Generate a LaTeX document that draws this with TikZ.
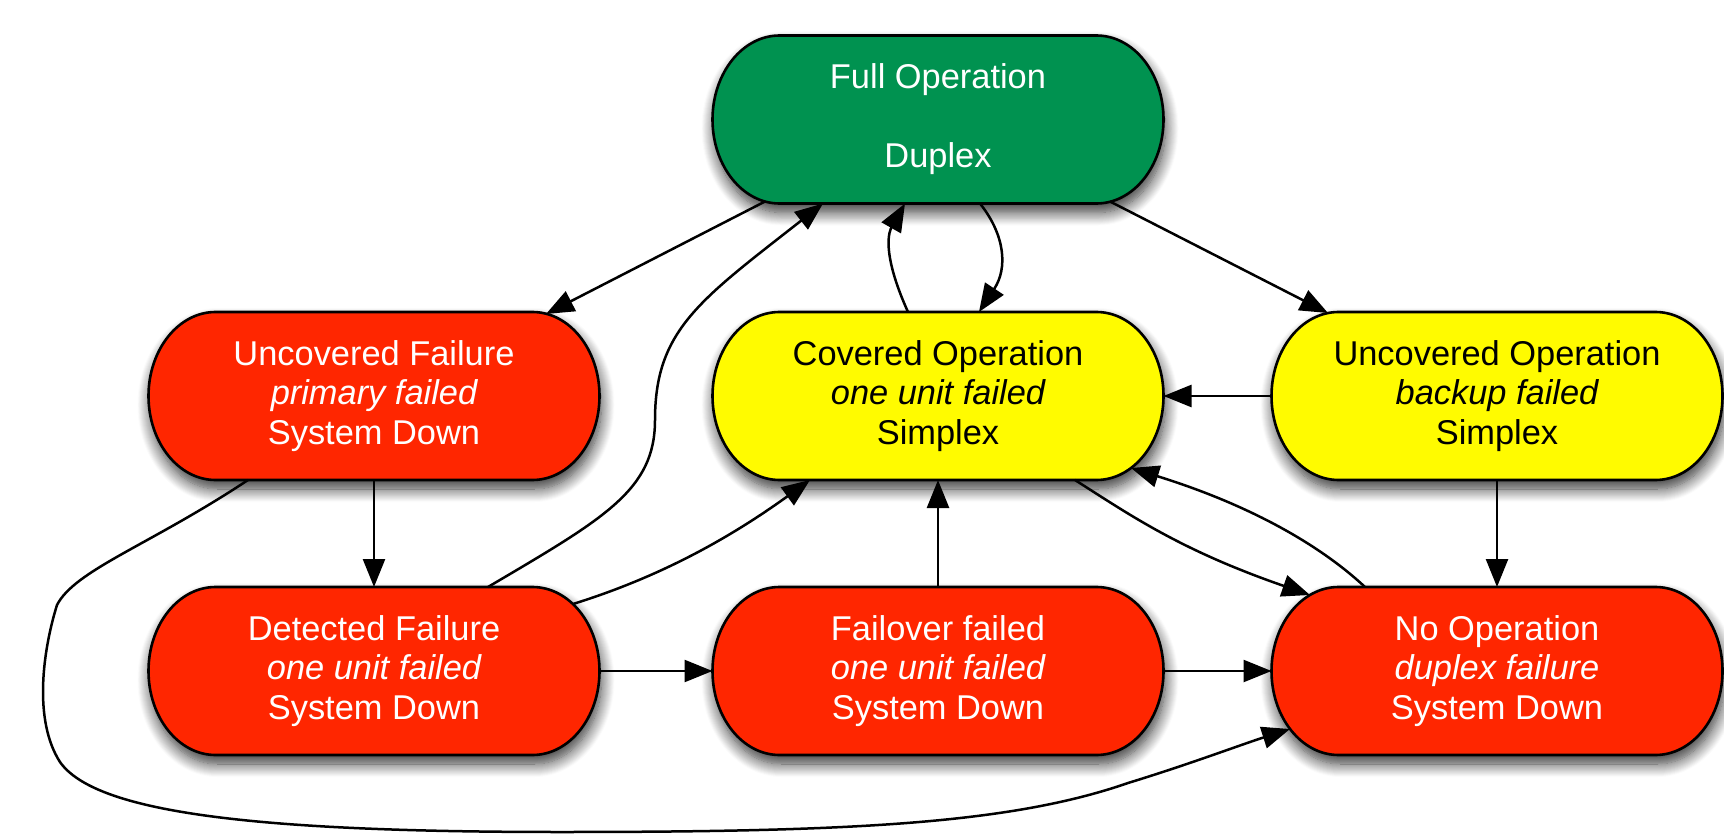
\documentclass[tikz,border=0pt]{standalone}
\usepackage{fontspec}
\setmainfont{Liberation Sans}
\usetikzlibrary{calc,arrows.meta,shadows.blur}

\definecolor{stategreen}{RGB}{0,146,80}
\definecolor{statered}{RGB}{255,38,0}
\definecolor{stateyellow}{RGB}{255,251,0}

\pgfdeclarelayer{background}
\pgfsetlayers{background,main}

\tikzset{
  state/.style={inner sep=0pt, outer sep=0pt, minimum width=225.5pt,
    minimum height=84pt, align=center,
    font=\fontsize{17.2}{19.8}\selectfont},
  light/.style={state, text=white},
  dark/.style={state, text=black},
  pill/.style={draw=black, line width=1.3pt,
    blur shadow={shadow xshift=1pt, shadow yshift=-4.5pt,
      shadow blur radius=6.5pt, shadow blur steps=14, shadow opacity=80}},
  link/.style={draw=black, line width=1.25pt,
    -{Triangle[length=14pt,width=11pt,fill=black]}},
}

% pill outline with elliptical ends around a state node
\newcommand\pillbox[2]{%
  \path[pill, fill=#2]
    ($(#1)+(-158.5,-84)$) -- ($(#1)+(158.5,-84)$)
    arc[start angle=90, end angle=-90, x radius=33.5pt, y radius=42pt]
    -- ($(#1)+(-158.5,84)$)
    arc[start angle=270, end angle=90, x radius=33.5pt, y radius=42pt]
    -- cycle;}

\begin{document}
\begin{tikzpicture}[x=0.5pt, y=-0.5pt]
\useasboundingbox (0,0) rectangle (1724,834);

% states
\node[light] (fo) at (938,119.5) {Full Operation\\[19.8pt]Duplex};
\node[light] (uf) at (374,396) {Uncovered Failure\\{\itshape primary failed}\\System Down};
\node[dark]  (co) at (938,396) {Covered Operation\\{\itshape one unit failed}\\Simplex};
\node[dark]  (uo) at (1497,396) {Uncovered Operation\\{\itshape backup failed}\\Simplex};
\node[light] (df) at (374,671) {Detected Failure\\{\itshape one unit failed}\\System Down};
\node[light] (ff) at (938,671) {Failover failed\\{\itshape one unit failed}\\System Down};
\node[light] (no) at (1497,671) {No Operation\\{\itshape duplex failure}\\System Down};

\begin{pgfonlayer}{background}
  \pillbox{fo}{stategreen}
  \pillbox{uf}{statered}
  \pillbox{co}{stateyellow}
  \pillbox{uo}{stateyellow}
  \pillbox{df}{statered}
  \pillbox{ff}{statered}
  \pillbox{no}{statered}
\end{pgfonlayer}

% transitions
\draw[link] ($(fo)+(-173,82)$) -- ($(uf)+(172,-82)$);
\draw[link] ($(fo)+(172,82)$) -- ($(uo)+(-169,-83)$);
\draw[link] ($(co)+(-30,-84)$) .. controls (880,250) and (890,230) .. ($(fo)+(-33,84)$);
\draw[link] ($(fo)+(42,84)$) .. controls (1005,235) and (1008,268) .. ($(co)+(41,-84)$);
\draw[link] ($(df)+(114,-84)$) .. controls (605,518) and (655,490) .. (655,420)
  .. controls (655,330) and (700,300) .. ($(fo)+(-115,84)$);
\draw[link] (uo.west) -- (co.east);
\draw[link] (uf.south) -- (df.north);
\draw[link] (df.east) -- (ff.west);
\draw[link] (ff.north) -- (co.south);
\draw[link] (ff.east) -- (no.west);
\draw[link] (uo.south) -- (no.north);
\draw[link] ($(df)+(199,-67)$) .. controls (650,580) and (720,545) .. ($(co)+(-128,84)$);
\draw[link] ($(co)+(137,84)$) .. controls (1130,515) and (1180,550) .. ($(no)+(-187,-76)$);
\draw[link] ($(no)+(-132,-84)$) .. controls (1320,545) and (1250,505) .. ($(co)+(193,72)$);
\draw[link] ($(uf)+(-126,84)$) .. controls (150,545) and (75,570) .. (57,605)
  .. controls (43,650) and (33,720) .. (60,762)
  .. controls (95,812) and (250,832) .. (560,832)
  .. controls (850,832) and (1010,824) .. (1128,783)
  .. controls (1190,764) and (1240,745) .. ($(no)+(-207,58)$);
\end{tikzpicture}
\end{document}
